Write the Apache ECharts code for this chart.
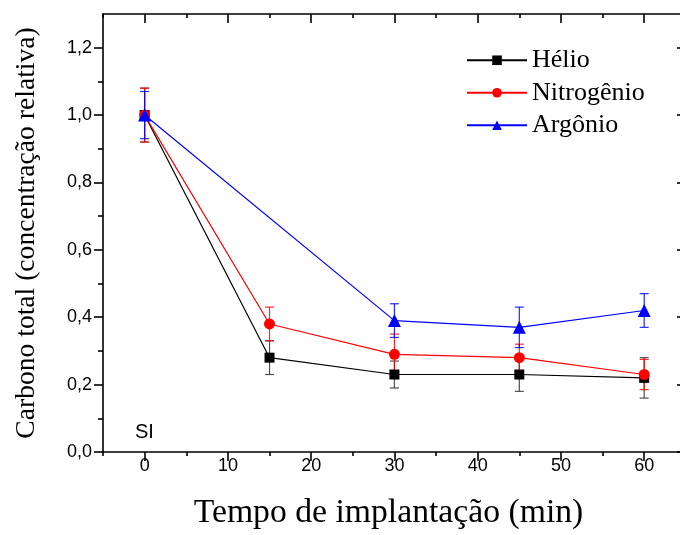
<!DOCTYPE html>
<html>
<head>
<meta charset="utf-8">
<script src="https://cdn.jsdelivr.net/npm/echarts@6/dist/echarts.min.js"></script>
<style>
  html, body { margin: 0; padding: 0; background: #fff; overflow: hidden; }
  #chart { width: 680px; height: 535px; }
</style>
</head>
<body>
<div id="chart"></div>
<script>
// Implantation time (min) and relative total carbon for each gas
const helioTime = [0, 15, 30, 45, 60];
const helio = [1.00, 0.28, 0.23, 0.23, 0.22];
const helioErr = [0.08, 0.05, 0.04, 0.05, 0.06];

const nitrogenioTime = [0, 15, 30, 45, 60];
const nitrogenio = [1.00, 0.38, 0.29, 0.28, 0.23];
const nitrogenioErr = [0.08, 0.05, 0.06, 0.04, 0.045];

const argonioTime = [0, 30, 45, 60];
const argonio = [1.00, 0.39, 0.37, 0.42];
const argonioErr = [0.07, 0.05, 0.06, 0.05];

// Axis ticks
const xMajor = [0, 10, 20, 30, 40, 50, 60];
const xMinor = [-5, 5, 15, 25, 35, 45, 55];
const yMajor = [0, 0.2, 0.4, 0.6, 0.8, 1.0, 1.2];
const yMinor = [0.1, 0.3, 0.5, 0.7, 0.9, 1.1];
const yTickLabels = ['0,0', '0,2', '0,4', '0,6', '0,8', '1,0', '1,2'];

const SERIF = "'Liberation Serif', 'Times New Roman', serif";
const SANS = "'Liberation Sans', Arial, sans-serif";
const AXIS_COLOR = '#000';
const X_MIN = -5, X_MAX = 64.3;

function pairs(xs, ys) { return xs.map((x, i) => [x, ys[i]]); }
function errTriples(xs, ys, es) { return xs.map((x, i) => [x, ys[i] - es[i], ys[i] + es[i]]); }

function errorSeries(name, xs, ys, es, color) {
  return {
    type: 'custom',
    name: name + '-err',
    xAxisIndex: 0, yAxisIndex: 0,
    silent: true,
    z: 2,
    data: errTriples(xs, ys, es),
    renderItem: function (params, api) {
      const lo = api.coord([api.value(0), api.value(1)]);
      const hi = api.coord([api.value(0), api.value(2)]);
      const cap = 4.5;
      const style = { stroke: color, lineWidth: 1.2, opacity: 0.85 };
      return {
        type: 'group',
        children: [
          { type: 'line', shape: { x1: lo[0], y1: lo[1], x2: hi[0], y2: hi[1] }, style },
          { type: 'line', shape: { x1: lo[0] - cap, y1: lo[1], x2: lo[0] + cap, y2: lo[1] }, style },
          { type: 'line', shape: { x1: hi[0] - cap, y1: hi[1], x2: hi[0] + cap, y2: hi[1] }, style }
        ]
      };
    }
  };
}

function lineSeries(name, xs, ys, color, symbol, size, z) {
  return {
    type: 'line',
    name: name,
    xAxisIndex: 0, yAxisIndex: 0,
    data: pairs(xs, ys),
    symbol: symbol,
    symbolSize: size,
    showAllSymbol: true,
    z: z,
    lineStyle: { color: color, width: 1.2 },
    itemStyle: { color: color, borderWidth: 0 },
    emphasis: { disabled: true }
  };
}

function xAxisDef(position, ticks, len, inside, showLine, showLabels) {
  return {
    type: 'value', position: position, min: X_MIN, max: X_MAX, interval: 5,
    axisLine: { show: showLine, onZero: false, lineStyle: { color: AXIS_COLOR, width: 1.6 } },
    axisTick: { show: true, customValues: ticks, length: len, inside: inside,
      lineStyle: { color: AXIS_COLOR, width: 1.6 } },
    axisLabel: showLabels ? {
      customValues: xMajor, color: '#000', fontFamily: SANS, fontSize: 18, margin: 5
    } : { show: false },
    splitLine: { show: false }
  };
}

function yAxisDef(position, ticks, len, inside, showLine, showLabels) {
  return {
    type: 'value', position: position, min: 0, max: 1.3, interval: 0.1,
    axisLine: { show: showLine, onZero: false, lineStyle: { color: AXIS_COLOR, width: 1.6 } },
    axisTick: { show: true, customValues: ticks, length: len, inside: inside,
      lineStyle: { color: AXIS_COLOR, width: 1.6 } },
    axisLabel: showLabels ? {
      customValues: yMajor, color: '#000', fontFamily: SANS, fontSize: 18, margin: 11,
      formatter: function (v) {
        const i = yMajor.findIndex(t => Math.abs(t - v) < 1e-6);
        return i >= 0 ? yTickLabels[i] : '';
      }
    } : { show: false },
    splitLine: { show: false }
  };
}

const xAxes = [
  xAxisDef('bottom', xMajor, 9, false, true, true),
  xAxisDef('bottom', xMinor, 4, false, false, false),
  xAxisDef('top', xMajor, 9, true, true, false),
  xAxisDef('top', xMinor, 4, true, false, false)
];
xAxes[0].name = 'Tempo de implantação (min)';
xAxes[0].nameLocation = 'middle';
xAxes[0].nameGap = 44;
xAxes[0].nameTextStyle = { fontFamily: SERIF, fontSize: 33.7, color: '#000', padding: [0, 6, 0, 0] };

// right-hand axis sits just past the canvas edge, so only the inner ends of its ticks show
const yAxes = [
  yAxisDef('left', yMajor, 9, false, true, true),
  yAxisDef('left', yMinor, 5, false, false, false),
  yAxisDef('right', yMajor, 3, true, false, false),
  yAxisDef('right', yMinor, 0, true, false, false)
];
yAxes[0].name = 'Carbono total (concentração relativa)';
yAxes[0].nameLocation = 'middle';
yAxes[0].nameGap = 62;
yAxes[0].nameRotate = 90;
yAxes[0].nameTextStyle = { fontFamily: SERIF, fontSize: 27.6, color: '#000' };

const chart = echarts.init(document.getElementById('chart'), null, { renderer: 'canvas' });
chart.setOption({
  animation: false,
  backgroundColor: '#fff',
  grid: { left: 103, top: 14, right: 0, height: 441, containLabel: false },
  xAxis: xAxes,
  yAxis: yAxes,
  legend: {
    orient: 'vertical',
    left: 461, top: 39,
    itemWidth: 60, itemHeight: 12, itemGap: 0,
    data: ['Hélio', 'Nitrogênio', 'Argônio'],
    textStyle: { fontFamily: SERIF, fontSize: 26, color: '#000', lineHeight: 32.5, padding: [0, 0, 0, 0] },
    selectedMode: false
  },
  graphic: [{
    type: 'text', left: 135, top: 422,
    style: { text: 'SI', font: '20px ' + SANS, fill: '#000' }
  }],
  series: [
    errorSeries('Hélio', helioTime, helio, helioErr, '#333'),
    lineSeries('Hélio', helioTime, helio, '#000', 'rect', 10, 3),
    errorSeries('Nitrogênio', nitrogenioTime, nitrogenio, nitrogenioErr, '#ff0000'),
    lineSeries('Nitrogênio', nitrogenioTime, nitrogenio, '#ff0000', 'circle', 11, 4),
    errorSeries('Argônio', argonioTime, argonio, argonioErr, '#0000ff'),
    lineSeries('Argônio', argonioTime, argonio, '#0000ff', 'triangle', 13, 5)
  ]
});
</script>
</body>
</html>
